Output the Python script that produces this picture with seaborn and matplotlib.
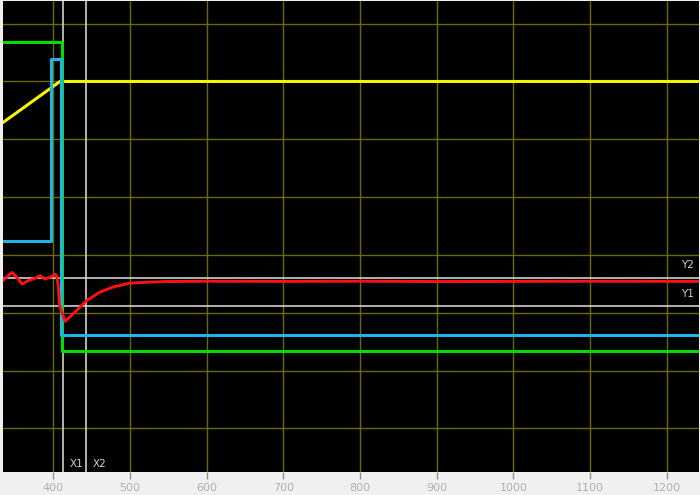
import matplotlib
matplotlib.use("Agg")
import matplotlib.pyplot as plt
import pandas as pd
import seaborn as sns

# x in samples, y in grid divisions
green_x = [334, 411.3, 411.3, 1241]
green_y = [6.685, 6.685, 1.334, 1.334]

cyan_x = [334, 396.9, 396.9, 410.5, 410.5, 1241]
cyan_y = [3.233, 3.233, 6.39, 6.39, 1.61, 1.61]

yellow_x = [334, 408.7, 1241]
yellow_y = [5.287, 6.0, 6.0]

red_x = [334.4, 346.1, 352.6, 359.2, 367, 373.5, 382.7, 389.2, 398.3, 402.2,
         404.8, 406.5, 408.1, 415.3, 428.3, 443.6, 460.9, 477.9, 500, 525,
         548, 600, 700, 800, 900, 1000, 1100, 1241]
red_y = [2.56, 2.698, 2.611, 2.496, 2.554, 2.582, 2.641, 2.582, 2.629, 2.668,
         2.629, 2.45, 2.128, 1.852, 2.012, 2.214, 2.358, 2.444, 2.513, 2.53,
         2.54, 2.545, 2.542, 2.545, 2.54, 2.542, 2.545, 2.542]

x_ticks = [400, 500, 600, 700, 800, 900, 1000, 1100, 1200]
y_grid = [0, 1, 2, 3, 4, 5, 6, 7]

cursor_x = {"X1": 412.8, "X2": 442.7}
cursor_y = {"Y2": 2.599, "Y1": 2.111}

sns.set_style("dark")
plt.rcParams["font.family"] = ["DejaVu Sans"]

fig = plt.figure(figsize=(7, 4.95), dpi=100, facecolor="#f0f0f0")
ax = fig.add_axes([3 / 700, 23 / 495, 696 / 700, 471 / 495])
ax.set_facecolor("black")

GRID = "#6a6a00"
for gx in x_ticks:
    ax.axvline(gx, color=GRID, lw=1.0, zorder=1)
for gy in y_grid:
    ax.axhline(gy, color=GRID, lw=1.0, zorder=1)

CUR = "#d0d0d0"
for name, cx in cursor_x.items():
    ax.axvline(cx, color=CUR, lw=1.2, zorder=2)
    ax.text(cx + 9, -0.62, name, color=CUR, fontsize=7.5, ha="left", va="center")
for name, cy in cursor_y.items():
    ax.axhline(cy, color=CUR, lw=1.2, zorder=2)
    ax.text(1236, cy + 0.22, name, color=CUR, fontsize=7.5, ha="right", va="center")

series = [
    (yellow_x, yellow_y, "#f5f500", 2.2),
    (green_x, green_y, "#00e000", 2.2),
    (cyan_x, cyan_y, "#1eb4e6", 2.2),
    (red_x, red_y, "#ff1010", 2.1),
]
for xs, ys, col, lw in series:
    df = pd.DataFrame({"x": xs, "y": ys})
    sns.lineplot(data=df, x="x", y="y", ax=ax, color=col, lw=lw,
                 estimator=None, sort=False, zorder=3)

ax.set_xlim(334.4, 1242)
ax.set_ylim(-0.754, 7.392)
ax.set_xticks(x_ticks)
ax.set_xticklabels([str(t) for t in x_ticks])
ax.set_yticks([])
ax.set_xlabel("")
ax.set_ylabel("")
ax.grid(False)
ax.tick_params(axis="x", colors="#909090", labelcolor="#b0b0b0", labelsize=8,
               length=5, width=1, direction="out", bottom=True, pad=3)
for s in ax.spines.values():
    s.set_visible(False)

fig.savefig("out.png", dpi=100, facecolor=fig.get_facecolor())
